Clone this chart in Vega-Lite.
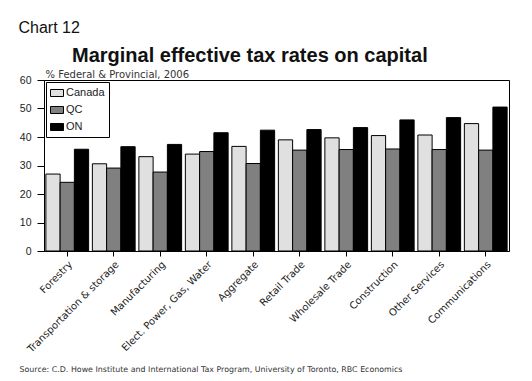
{
  "$schema": "https://vega.github.io/schema/vega-lite/v6.json",
  "width": 465,
  "height": 171,
  "autosize": {"type": "none"},
  "padding": {"left": 44, "top": 80, "right": 23, "bottom": 130},
  "background": "white",
  "title": {
    "text": "Marginal effective tax rates on capital",
    "anchor": "start",
    "frame": "group",
    "dx": 28,
    "dy": 51,
    "font": "Liberation Sans",
    "fontSize": 20,
    "fontWeight": "bold",
    "color": "#111111"
  },
  "data": {
    "values": [
      {"sector": "Forestry", "region": "Canada", "value": 27.0},
      {"sector": "Forestry", "region": "QC", "value": 24.1},
      {"sector": "Forestry", "region": "ON", "value": 35.7},
      {"sector": "Transportation & storage", "region": "Canada", "value": 30.6},
      {"sector": "Transportation & storage", "region": "QC", "value": 29.1},
      {"sector": "Transportation & storage", "region": "ON", "value": 36.6},
      {"sector": "Manufacturing", "region": "Canada", "value": 33.1},
      {"sector": "Manufacturing", "region": "QC", "value": 27.7},
      {"sector": "Manufacturing", "region": "ON", "value": 37.4},
      {"sector": "Elect. Power, Gas, Water", "region": "Canada", "value": 34.0},
      {"sector": "Elect. Power, Gas, Water", "region": "QC", "value": 34.9},
      {"sector": "Elect. Power, Gas, Water", "region": "ON", "value": 41.5},
      {"sector": "Aggregate", "region": "Canada", "value": 36.7},
      {"sector": "Aggregate", "region": "QC", "value": 30.7},
      {"sector": "Aggregate", "region": "ON", "value": 42.4},
      {"sector": "Retail Trade", "region": "Canada", "value": 39.0},
      {"sector": "Retail Trade", "region": "QC", "value": 35.4},
      {"sector": "Retail Trade", "region": "ON", "value": 42.6},
      {"sector": "Wholesale Trade", "region": "Canada", "value": 39.7},
      {"sector": "Wholesale Trade", "region": "QC", "value": 35.6},
      {"sector": "Wholesale Trade", "region": "ON", "value": 43.3},
      {"sector": "Construction", "region": "Canada", "value": 40.5},
      {"sector": "Construction", "region": "QC", "value": 35.8},
      {"sector": "Construction", "region": "ON", "value": 46.0},
      {"sector": "Other Services", "region": "Canada", "value": 40.7},
      {"sector": "Other Services", "region": "QC", "value": 35.6},
      {"sector": "Other Services", "region": "ON", "value": 46.8},
      {"sector": "Communications", "region": "Canada", "value": 44.7},
      {"sector": "Communications", "region": "QC", "value": 35.4},
      {"sector": "Communications", "region": "ON", "value": 50.5}
    ]
  },
  "encoding": {
    "x": {
      "field": "sector",
      "type": "nominal",
      "sort": null,
      "scale": {"paddingInner": 0.08, "paddingOuter": 0.04},
      "axis": {
        "title": "Source: C.D. Howe Institute and International Tax Program, University of Toronto, RBC Economics",
        "titleX": -25,
        "titleY": 120,
        "titleAlign": "left",
        "titleAnchor": null,
        "titleBaseline": "alphabetic",
        "titleFont": "DejaVu Sans",
        "titleFontSize": 7.9,
        "titleFontWeight": "normal",
        "titleColor": "#333333",
        "labelAngle": -45,
        "labelFont": "DejaVu Sans",
        "labelFontSize": 10,
        "labelColor": "#222222",
        "labelPadding": 3,
        "tickSize": 5,
        "tickColor": "black",
        "domainColor": "black",
        "grid": false
      }
    },
    "xOffset": {
      "field": "region",
      "type": "nominal",
      "sort": ["Canada", "QC", "ON"],
      "scale": {"paddingInner": 0, "paddingOuter": 0}
    },
    "y": {
      "field": "value",
      "type": "quantitative",
      "scale": {"domain": [0, 60], "nice": false}
    }
  },
  "layer": [
    {
      "mark": {"type": "bar", "stroke": "black", "strokeWidth": 1},
      "encoding": {
        "y": {
          "field": "value",
          "type": "quantitative",
          "scale": {"domain": [0, 60], "nice": false},
          "axis": {
            "orient": "left",
            "values": [0, 10, 20, 30, 40, 50, 60],
            "grid": false,
            "title": "% Federal & Provincial, 2006",
            "titleAngle": 0,
            "titleX": 1,
            "titleY": -3,
            "titleAlign": "left",
            "titleAnchor": null,
            "titleBaseline": "alphabetic",
            "titleFont": "DejaVu Sans",
            "titleFontSize": 10,
            "titleFontWeight": "normal",
            "titleColor": "#333333",
            "labelFont": "Liberation Sans",
            "labelFontSize": 10.5,
            "labelColor": "#222222",
            "labelPadding": 6,
            "tickSize": 7,
            "tickColor": "black",
            "domainColor": "black"
          }
        },
        "color": {
          "field": "region",
          "type": "nominal",
          "sort": ["Canada", "QC", "ON"],
          "scale": {"domain": ["Canada", "QC", "ON"], "range": ["#e0e0e0", "#808080", "#000000"]},
          "legend": {
            "title": null,
            "orient": "top-left",
            "offset": 2,
            "strokeColor": "black",
            "fillColor": "white",
            "padding": 4,
            "rowPadding": 4,
            "symbolType": "M-1,-0.54H1V0.54H-1Z",
            "symbolSize": 169,
            "symbolStrokeColor": "black",
            "symbolStrokeWidth": 1,
            "labelFont": "Liberation Sans",
            "labelFontSize": 11,
            "labelColor": "#222222",
            "labelOffset": 2
          }
        }
      }
    },
    {
      "mark": {"type": "bar", "opacity": 0},
      "encoding": {
        "y": {
          "field": "value",
          "type": "quantitative",
          "scale": {"domain": [0, 60], "nice": false},
          "axis": {
            "orient": "right",
            "labels": false,
            "ticks": false,
            "domain": false,
            "grid": false,
            "title": "Chart 12",
            "titleAngle": 0,
            "titleX": -491,
            "titleY": -48,
            "titleAlign": "left",
            "titleAnchor": null,
            "titleBaseline": "alphabetic",
            "titleFont": "Liberation Sans",
            "titleFontSize": 16,
            "titleFontWeight": "normal",
            "titleColor": "#111111"
          }
        }
      }
    }
  ],
  "resolve": {"axis": {"y": "independent"}},
  "config": {
    "view": {"stroke": "black", "strokeWidth": 1}
  }
}
